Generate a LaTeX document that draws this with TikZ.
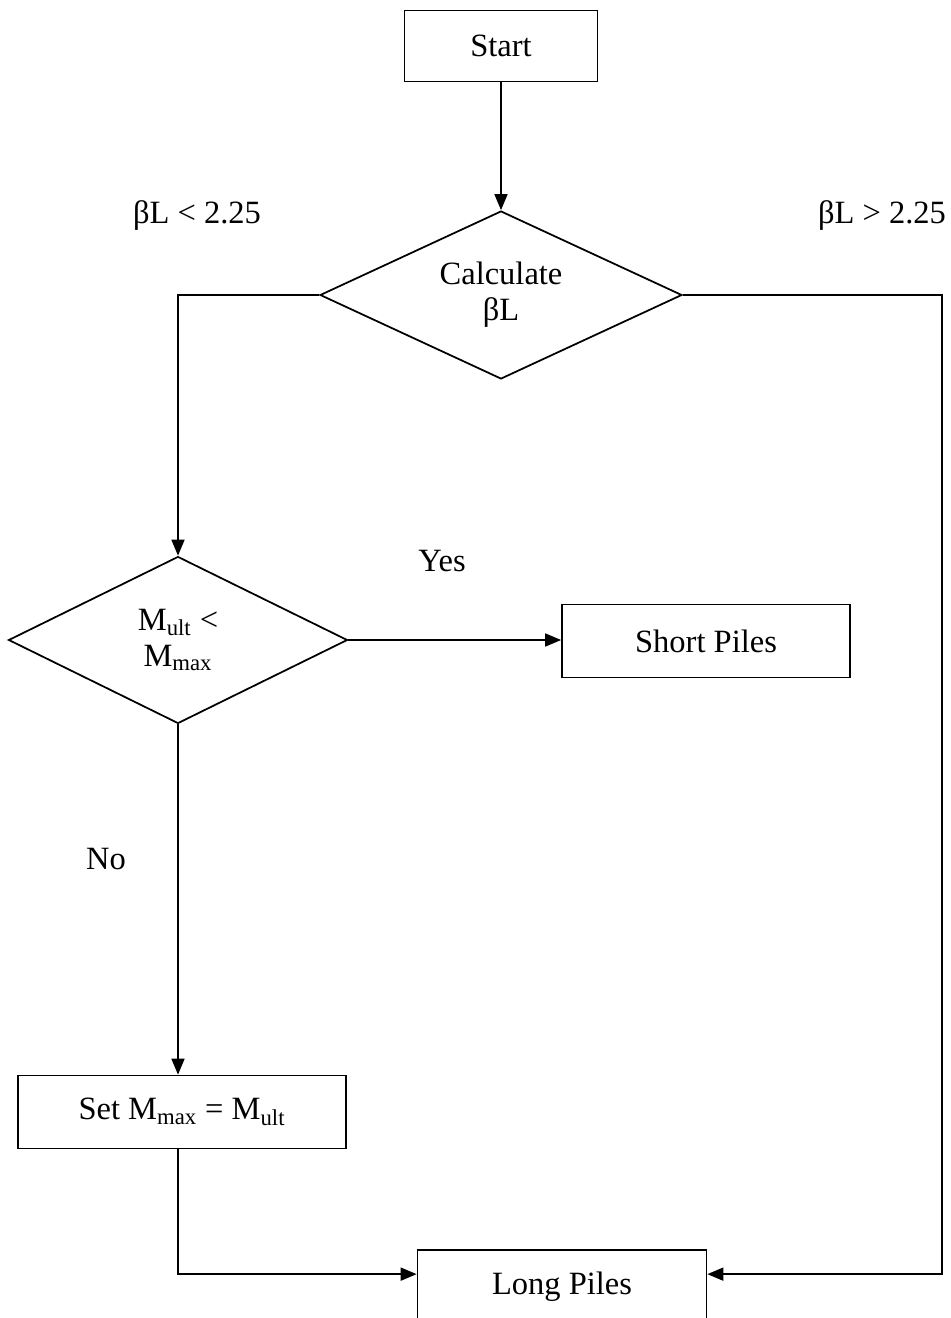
\documentclass[tikz,border=0pt]{standalone}
\usepackage{fontspec}
\setmainfont{Liberation Serif}
\usetikzlibrary{shapes.geometric,arrows.meta,calc}

\begin{document}
\begin{tikzpicture}[x=0.02cm, y=-0.02cm, line width=1pt,
    every node/.style={font=\fontsize{18.5}{20.5}\selectfont, align=center},
    box/.style={draw, rectangle, inner sep=0pt},
    decision/.style={draw, diamond, aspect=2.1, inner sep=0pt},
    arr/.style={-{Triangle[length=0.32cm, width=0.26cm]}}]
  %% fissa la cornice dell'immagine (la scatola in basso resta tagliata)
  \useasboundingbox (0,0) rectangle (950,1318);
  \clip (0,0) rectangle (950,1318);

  \node[box, minimum width=3.86cm, minimum height=1.42cm] (start) at (501,46) {Start};
  \node[decision, minimum width=7.24cm, minimum height=3.36cm] (calc) at (501,295) {Calculate\\ βL};
  \node[decision, minimum width=6.78cm, minimum height=3.34cm] (check) at (178,640) {M\textsubscript{ult} <\\ M\textsubscript{max}};
  \node[box, minimum width=5.76cm, minimum height=1.46cm] (short) at (706,641) {Short Piles};
  \node[box, minimum width=6.56cm, minimum height=1.46cm] (set) at (182,1112) {Set M\textsubscript{max} = M\textsubscript{ult}};
  \node[box, minimum width=5.78cm, minimum height=1.46cm] (long) at (562,1286.5) {Long Piles};

  %% etichette dei rami
  \node (lt) at (197,216) {βL < 2.25};
  \node (gt) at (882,216) {βL > 2.25};
  \node (yes) at (442,561) {Yes};
  \node (no) at (106,859) {No};

  \coordinate (rtop) at (942,295);
  \coordinate (inl) at ($(long.north west)+(0,25)$);
  \coordinate (inr) at ($(long.north east)+(0,25)$);

  \draw[arr] (start) -- (calc);
  \draw[arr] (calc.west) -| (check.north);
  \draw[arr] (calc.east) -- (rtop) |- (inr);
  \draw[arr] (check.east) -- (short.west |- check.east);
  \draw[arr] (check.south) -- (check.south |- set.north);
  \draw[arr] (set.south -| check.south) |- (inl);
\end{tikzpicture}
\end{document}
